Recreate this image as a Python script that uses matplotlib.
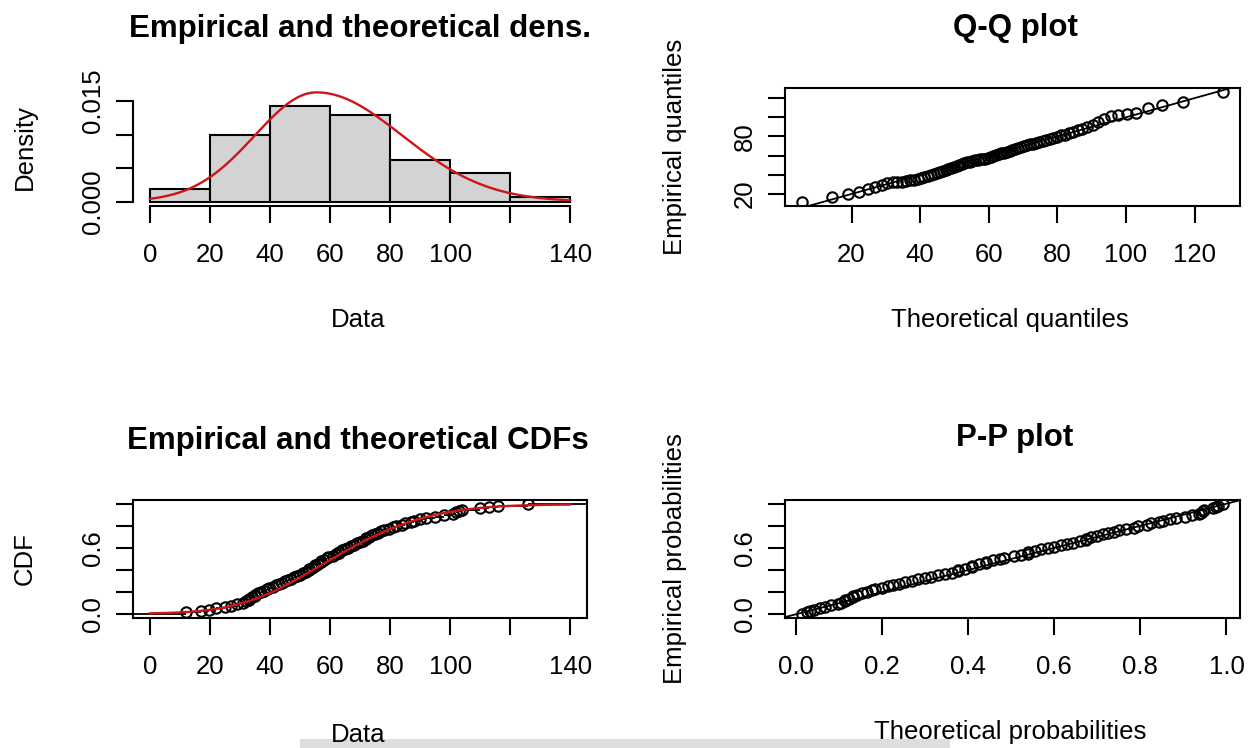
import math
import numpy as np
import matplotlib
matplotlib.use("Agg")
import matplotlib.pyplot as plt
from matplotlib.patches import Rectangle

plt.rcParams['font.family'] = ['Liberation Sans', 'DejaVu Sans']

# observed sample (sorted), n = 81
data = [12, 17, 19.6,
        22, 25, 27, 29, 31, 32, 33, 33, 34, 35, 35, 36, 37, 38, 39, 39.6,
        41, 42, 43, 44, 45, 46, 47, 48, 49, 50, 51, 52, 53, 53, 54, 55, 55,
        56, 57, 57, 58, 59, 59.5,
        61, 62, 63, 63, 64, 65, 66, 67, 68, 69, 70, 71, 72, 72, 73, 74, 75,
        76, 77, 78, 79.5,
        81, 82, 84, 85, 87, 88, 90, 92, 95, 98,
        101, 102, 103, 104, 110, 113, 116,
        126]
breaks = [0, 20, 40, 60, 80, 100, 120, 140]

# fitted two-piece normal
fit_mode = 55.5
fit_sd_left = 20.5
fit_sd_right = 28.5

dens_xticks = [0, 20, 40, 60, 80, 100, 120, 140]
dens_xlabels = ['0', '20', '40', '60', '80', '100', '', '140']
dens_yticks = [0.0, 0.005, 0.010, 0.015]
dens_ylabels = ['0.000', '', '', '0.015']
qq_ticks = [20, 40, 60, 80, 100, 120]
qq_ylabels = ['20', '', '', '80', '', '']
prob_ticks = [0.0, 0.2, 0.4, 0.6, 0.8, 1.0]
prob_xlabels = ['0.0', '0.2', '0.4', '0.6', '0.8', '1.0']
prob_ylabels = ['0.0', '', '', '0.6', '', '']

RED = '#cc1616'
LW = 1.5
FS = 18.5
TITLE_FS = 22.5
MS = 7.5
MEW = 1.5

W, H = 1250, 748


def phi(z):
    return 0.5 * (1.0 + np.vectorize(math.erf)(np.asarray(z) / math.sqrt(2.0)))


def fit_pdf(x):
    x = np.asarray(x, dtype=float)
    a = math.sqrt(2.0 / math.pi) / (fit_sd_left + fit_sd_right)
    s = np.where(x < fit_mode, fit_sd_left, fit_sd_right)
    return a * np.exp(-0.5 * ((x - fit_mode) / s) ** 2)


def fit_cdf(x):
    x = np.asarray(x, dtype=float)
    tot = fit_sd_left + fit_sd_right
    left = 2 * fit_sd_left / tot * phi((x - fit_mode) / fit_sd_left)
    right = fit_sd_left / tot + 2 * fit_sd_right / tot * (phi((x - fit_mode) / fit_sd_right) - 0.5)
    return np.where(x < fit_mode, left, right)


def fit_quantile(p):
    grid = np.linspace(-100, 300, 40001)
    return np.interp(p, fit_cdf(grid), grid)


def r_lim(lo, hi):
    d = 0.04 * (hi - lo)
    return lo - d, hi + d


def add_axes(x0, y0, x1, y1):
    return fig.add_axes([x0 / W, 1 - y1 / H, (x1 - x0) / W, (y1 - y0) / H])


def style(ax, box=True):
    for sp in ax.spines.values():
        sp.set_linewidth(LW)
        sp.set_visible(box)
    ax.tick_params(direction='out', length=12, width=LW, labelsize=FS, colors='black')
    ax.tick_params(axis='x', pad=15)
    ax.tick_params(axis='y', pad=8)
    for lab in ax.get_yticklabels():
        lab.set_rotation(90)
        lab.set_va('center')


def ylab(x, y, s):
    fig.text(x / W, 1 - y / H, s, rotation=90, ha='center', va='center', fontsize=FS)


def xlab(x, y, s):
    fig.text(x / W, 1 - y / H, s, ha='center', va='center', fontsize=FS)


def title(x, y, s):
    fig.text(x / W, 1 - y / H, s, ha='center', va='center', fontsize=TITLE_FS, fontweight='bold')


def points(ax, px, py):
    ax.plot(px, py, 'o', mfc='none', mec='black', mew=MEW, ms=MS)


x = np.sort(np.array(data, dtype=float))
n = len(x)
ppts = (np.arange(1, n + 1) - 0.5) / n
ecdf = np.arange(1, n + 1) / n

fig = plt.figure(figsize=(W / 100, H / 100), dpi=100)

LEFT = (133, 587)
RIGHT = (785, 1240)
TOP = (88, 206)
BOT = (500, 618)

# --- density ---
ax = add_axes(LEFT[0], TOP[0], LEFT[1], TOP[1])
counts, _ = np.histogram(x, bins=breaks)
dens = counts / (n * np.diff(breaks))
grid = np.linspace(breaks[0], breaks[-1], 600)
curve = fit_pdf(grid)
ax.bar(breaks[:-1], dens, width=np.diff(breaks), align='edge', color='#d3d3d3',
       edgecolor='black', linewidth=LW)
ax.plot(grid, curve, color=RED, lw=1.7)
ax.set_xlim(*r_lim(breaks[0], breaks[-1]))
ax.set_ylim(*r_lim(0, max(dens.max(), curve.max())))
ax.set_xticks(dens_xticks, dens_xlabels)
ax.set_yticks(dens_yticks, dens_ylabels)
style(ax, box=False)
ax.spines['bottom'].set_visible(True)
ax.spines['left'].set_visible(True)
ax.spines['bottom'].set_bounds(dens_xticks[0], dens_xticks[-1])
ax.spines['left'].set_bounds(dens_yticks[0], dens_yticks[-1])
title(360, 29, 'Empirical and theoretical dens.')
ylab(25, 147, 'Density')
xlab(358, 320, 'Data')

# --- Q-Q ---
ax = add_axes(RIGHT[0], TOP[0], RIGHT[1], TOP[1])
tq = fit_quantile(ppts)
points(ax, tq, x)
ax.axline((0, 0), slope=1, color='black', lw=1.3)
ax.set_xlim(*r_lim(tq.min(), tq.max()))
ax.set_ylim(*r_lim(x.min(), x.max()))
ax.set_xticks(qq_ticks, [str(t) for t in qq_ticks])
ax.set_yticks(qq_ticks, qq_ylabels)
style(ax)
title(1015, 28, 'Q-Q plot')
ylab(675, 147, 'Empirical quantiles')
xlab(1010, 320, 'Theoretical quantiles')

# --- CDF ---
ax = add_axes(LEFT[0], BOT[0], LEFT[1], BOT[1])
xl = r_lim(breaks[0], breaks[-1])
edges = np.r_[xl[0], x, xl[1]]
levels = np.r_[0, ecdf]
ax.hlines(levels, edges[:-1], edges[1:], color='black', lw=1.3)
points(ax, x, ecdf)
ax.plot(grid, fit_cdf(grid), color=RED, lw=1.7)
ax.set_xlim(*xl)
ax.set_ylim(*r_lim(0, 1))
ax.set_xticks(dens_xticks, dens_xlabels)
ax.set_yticks(prob_ticks, prob_ylabels)
style(ax)
title(358, 441, 'Empirical and theoretical CDFs')
ylab(25, 559, 'CDF')
xlab(358, 735, 'Data')

# --- P-P ---
ax = add_axes(RIGHT[0], BOT[0], RIGHT[1], BOT[1])
tp = fit_cdf(x)
points(ax, tp, ppts)
ax.axline((0, 0), slope=1, color='black', lw=1.3)
ax.set_xlim(*r_lim(tp.min(), tp.max()))
ax.set_ylim(*r_lim(ppts.min(), ppts.max()))
ax.set_xticks(prob_ticks, prob_xlabels)
ax.set_yticks(prob_ticks, prob_ylabels)
style(ax)
title(1015, 438, 'P-P plot')
ylab(675, 559, 'Empirical probabilities')
xlab(1010, 732, 'Theoretical probabilities')

fig.patches.append(Rectangle((300 / W, 0), 650 / W, 9 / H, transform=fig.transFigure,
                             facecolor='#dedede', edgecolor='none', zorder=0))

fig.savefig('out.png', dpi=100)
